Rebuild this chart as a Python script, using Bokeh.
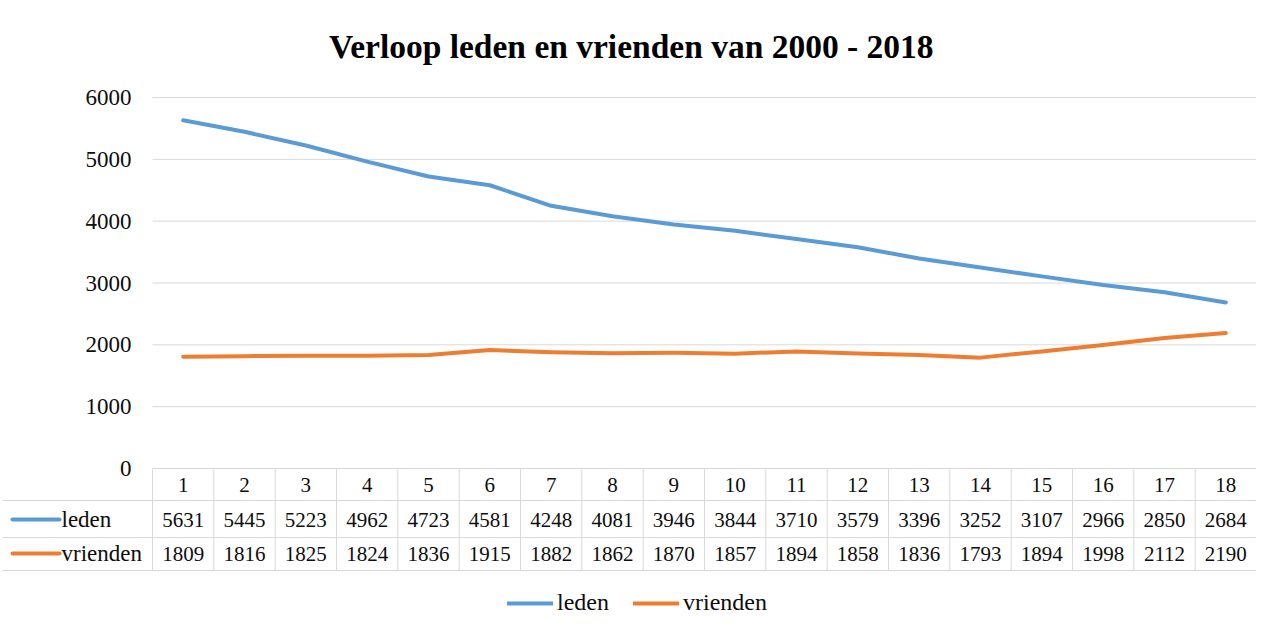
from bokeh.plotting import figure
from bokeh.models import Range1d, Label, Legend, LegendItem
from bokeh.core.properties import value
from bokeh.embed import file_html
from bokeh.resources import INLINE

# ---- data ----
categories = list(range(1, 19))
leden = [5631, 5445, 5223, 4962, 4723, 4581, 4248, 4081, 3946, 3844,
         3710, 3579, 3396, 3252, 3107, 2966, 2850, 2684]
vrienden = [1809, 1816, 1825, 1824, 1836, 1915, 1882, 1862, 1870, 1857,
            1894, 1858, 1836, 1793, 1894, 1998, 2112, 2190]
y_ticks = [0, 1000, 2000, 3000, 4000, 5000, 6000]
series_names = ["leden", "vrienden"]
series_values = [leden, vrienden]
colors = ["#5B9BD5", "#ED7D31"]
title_text = "Verloop  leden en vrienden van 2000 - 2018"

# ---- layout helpers (pixel positions in the page) ----
W, H = 1256, 625
ORIGIN = 0
PLOT_LEFT, PLOT_RIGHT = 152, 1256
Y0_PX, YTOP_PX = 468, 97
cat_w = (PLOT_RIGHT - PLOT_LEFT) / len(categories)
unit = (Y0_PX - YTOP_PX) / y_ticks[-1]


def xd(px):
    return 0.5 + (px - PLOT_LEFT) / cat_w


def yd(py):
    return (Y0_PX - py) / unit


FONT = value("Liberation Serif")
FS = "21px"
FS_L = "23px"
TXT = "#0d0d0d"
GRID = "#D9D9D9"

p = figure(width=W, height=H, output_backend="svg", toolbar_location=None,
           title=None, x_range=Range1d(xd(ORIGIN), xd(ORIGIN + W)),
           y_range=Range1d(yd(ORIGIN + H), yd(ORIGIN)),
           min_border=0, min_border_left=0, min_border_right=0,
           min_border_top=0, min_border_bottom=0)
p.axis.visible = False
p.grid.visible = False
p.outline_line_color = None
p.background_fill_color = "white"
p.border_fill_color = "white"

x_first = categories[0] - 0.5
x_last = categories[-1] + 0.5

# gridlines
gt = y_ticks[1:]
p.segment(x0=[x_first] * len(gt), y0=gt, x1=[x_last] * len(gt), y1=gt,
          line_color=GRID, line_width=1)

# y tick labels
p.text(x=[xd(131)] * len(y_ticks), y=y_ticks, text=[str(t) for t in y_ticks],
       text_font=FONT, text_font_size=FS_L, text_color=TXT,
       text_align="right", text_baseline="middle")

# data table lines
row_lines = [yd(500), yd(537), yd(570)]
p.segment(x0=[x_first], y0=[y_ticks[0]], x1=[x_last], y1=[y_ticks[0]],
          line_color=GRID, line_width=1)
p.segment(x0=[xd(2)] * 3, y0=row_lines, x1=[x_last] * 3, y1=row_lines,
          line_color=GRID, line_width=1)
vx = [c - 0.5 for c in categories] + [x_last]
p.segment(x0=vx, y0=[y_ticks[0]] * len(vx), x1=vx, y1=[yd(570)] * len(vx),
          line_color=GRID, line_width=1)

# header numbers
p.text(x=categories, y=[yd(484)] * len(categories),
       text=[str(c) for c in categories], text_font=FONT, text_font_size=FS,
       text_color=TXT, text_align="center", text_baseline="middle")

row_y = [yd(519), yd(553)]
renderers = []
for name, vals, col, ry in zip(series_names, series_values, colors, row_y):
    r = p.line(categories, vals, line_color=col, line_width=4,
               line_join="round", line_cap="round")
    renderers.append(r)
    p.text(x=categories, y=[ry] * len(categories), text=[str(v) for v in vals],
           text_font=FONT, text_font_size=FS, text_color=TXT,
           text_align="center", text_baseline="middle")
    p.segment(x0=[xd(12)], y0=[ry], x1=[xd(59)], y1=[ry], line_color=col,
              line_width=4, line_cap="round")
    p.text(x=[xd(61)], y=[ry], text=[name], text_font=FONT, text_font_size=FS_L,
           text_color=TXT, text_align="left", text_baseline="middle")

# title
p.add_layout(Label(x=635 - ORIGIN, y=H - (46 - ORIGIN), x_units="screen",
                   y_units="screen", text=title_text, text_font="Liberation Serif",
                   text_font_size="33.5px", text_font_style="bold",
                   text_color="#000000", text_align="center",
                   text_baseline="middle"))

legend = Legend(items=[LegendItem(label=n, renderers=[r])
                       for n, r in zip(series_names, renderers)],
                orientation="horizontal", location=(507 - ORIGIN, 9),
                glyph_width=46, glyph_height=20, label_standoff=4, spacing=24,
                padding=0, margin=0, border_line_color=None,
                background_fill_alpha=0, label_text_font="Liberation Serif",
                label_text_font_size="24px", label_text_color=TXT)
p.add_layout(legend)

open("out.html", "w").write(file_html(p, INLINE))
